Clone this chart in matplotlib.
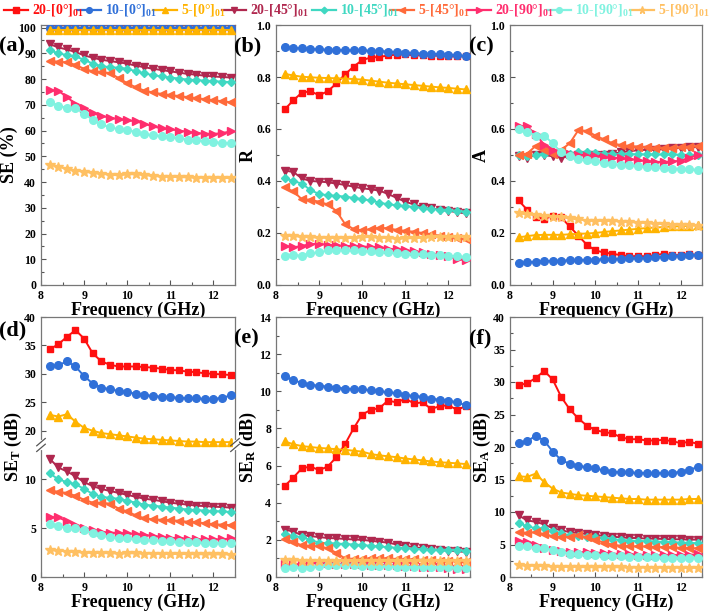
"""
Shielding performance of the 0/45/90 degree laminates, X band (8.2-12.4 GHz).
Six panels: SE (%), R, A, SE_T, SE_R, SE_A.
"""

import numpy as np
import matplotlib.pyplot as plt
from matplotlib.lines import Line2D
from matplotlib.ticker import MultipleLocator, FixedLocator

plt.rcParams['font.family'] = 'Liberation Serif'
plt.rcParams['font.weight'] = 'bold'
plt.rcParams['axes.labelweight'] = 'bold'
plt.rcParams['mathtext.fontset'] = 'custom'
plt.rcParams['mathtext.rm'] = 'Liberation Serif:bold'
plt.rcParams['mathtext.it'] = 'Liberation Serif:bold:italic'
plt.rcParams['mathtext.bf'] = 'Liberation Serif:bold'

# ---------------------------------------------------------------------------
freq = [8.2, 8.4, 8.6, 8.8, 9.0, 9.2, 9.4, 9.6, 9.8, 10.0, 10.2,
        10.4, 10.6, 10.8, 11.0, 11.2, 11.4, 11.6, 11.8, 12.0, 12.2, 12.4]

labels  = ['20-[0°]$_{01}$', '10-[0°]$_{01}$', '5-[0°]$_{01}$',
           '20-[45°]$_{01}$', '10-[45°]$_{01}$', '5-[45°]$_{01}$',
           '20-[90°]$_{01}$', '10-[90°]$_{01}$', '5-[90°]$_{01}$']
colors  = ['#FF1010', '#3070D8', '#FFB300', '#B0284F', '#40D8C2',
           '#FF6A3A', '#FF2E6E', '#80F2E0', '#FFC062']
markers = ['s', 'o', '^', 'v', 'D', '<', '>', 'o', '*']
msizes  = [5, 5.5, 5.5, 5.5, 4.5, 5.5, 5.5, 5.5, 7]

# SE (%)
se_pct = [
    [99.96] * 22,
    [99.8] * 22,
    [99.1] * 22,
    [93.6, 92.3, 91.5, 90.5, 89.2, 88.3, 87.5, 87.0, 86.5, 86.0, 85.2,
     84.6, 84.0, 83.5, 83.0, 82.5, 82.0, 81.7, 81.3, 81.0, 80.8, 80.6],
    [91.2, 90.0, 89.3, 88.8, 87.5, 86.0, 85.0, 84.6, 84.4, 84.0, 83.0,
     82.2, 81.5, 81.0, 80.6, 80.2, 79.8, 79.6, 79.4, 79.2, 79.0, 78.8],
    [87.2, 86.7, 86.5, 85.5, 84.0, 83.0, 82.8, 82.3, 80.4, 78.4, 76.8,
     75.5, 74.8, 74.2, 73.8, 73.4, 73.0, 72.6, 72.2, 71.8, 71.4, 71.0],
    [75.6, 75.5, 73.0, 70.4, 68.6, 66.8, 65.7, 65.0, 64.4, 64.0, 63.6,
     62.6, 61.6, 60.8, 60.5, 60.0, 59.5, 59.0, 58.8, 58.7, 59.0, 59.7],
    [71.2, 69.7, 68.8, 68.8, 66.6, 64.2, 62.4, 61.2, 60.6, 60.3, 59.4,
     58.6, 58.2, 57.8, 57.5, 57.0, 56.5, 56.2, 55.8, 55.5, 55.2, 55.0],
    [46.8, 46.0, 45.0, 44.4, 44.0, 43.5, 43.2, 42.8, 42.6, 43.0, 43.0,
     42.7, 42.3, 42.1, 42.0, 41.9, 41.8, 41.7, 41.6, 41.6, 41.6, 41.5],
]

# R
refl = [
    [0.675, 0.710, 0.740, 0.745, 0.730, 0.745, 0.775, 0.810, 0.840, 0.865, 0.875,
     0.877, 0.883, 0.886, 0.887, 0.883, 0.883, 0.882, 0.882, 0.879, 0.879, 0.879],
    [0.915, 0.912, 0.910, 0.908, 0.906, 0.905, 0.904, 0.903, 0.902, 0.902, 0.901,
     0.900, 0.898, 0.896, 0.894, 0.892, 0.890, 0.889, 0.888, 0.886, 0.884, 0.881],
    [0.812, 0.806, 0.801, 0.799, 0.797, 0.796, 0.795, 0.794, 0.792, 0.790, 0.786,
     0.782, 0.778, 0.775, 0.772, 0.769, 0.766, 0.763, 0.760, 0.758, 0.755, 0.752],
    [0.440, 0.435, 0.410, 0.400, 0.398, 0.395, 0.390, 0.385, 0.378, 0.372, 0.368,
     0.363, 0.350, 0.335, 0.320, 0.310, 0.300, 0.295, 0.290, 0.285, 0.280, 0.275],
    [0.410, 0.400, 0.390, 0.365, 0.350, 0.345, 0.343, 0.340, 0.335, 0.330, 0.325,
     0.317, 0.310, 0.307, 0.303, 0.300, 0.297, 0.293, 0.290, 0.287, 0.285, 0.282],
    [0.375, 0.360, 0.330, 0.328, 0.320, 0.310, 0.285, 0.235, 0.215, 0.210, 0.215,
     0.220, 0.218, 0.212, 0.208, 0.205, 0.200, 0.195, 0.190, 0.185, 0.180, 0.175],
    [0.150, 0.145, 0.150, 0.158, 0.158, 0.155, 0.152, 0.150, 0.150, 0.148, 0.147,
     0.145, 0.140, 0.137, 0.133, 0.130, 0.125, 0.120, 0.115, 0.110, 0.100, 0.095],
    [0.113, 0.115, 0.113, 0.122, 0.125, 0.133, 0.135, 0.133, 0.133, 0.132, 0.130,
     0.127, 0.125, 0.122, 0.120, 0.120, 0.118, 0.117, 0.115, 0.113, 0.110, 0.108],
    [0.190, 0.188, 0.185, 0.183, 0.182, 0.181, 0.180, 0.180, 0.181, 0.183, 0.185,
     0.182, 0.180, 0.178, 0.179, 0.180, 0.182, 0.184, 0.185, 0.186, 0.186, 0.186],
]

# A
absorb = [
    [0.325, 0.290, 0.260, 0.255, 0.265, 0.260, 0.225, 0.190, 0.155, 0.133, 0.125,
     0.120, 0.115, 0.110, 0.112, 0.110, 0.115, 0.120, 0.115, 0.115, 0.120, 0.115],
    [0.083, 0.087, 0.090, 0.092, 0.093, 0.094, 0.095, 0.096, 0.097, 0.098, 0.099,
     0.100, 0.101, 0.102, 0.103, 0.105, 0.107, 0.109, 0.110, 0.112, 0.114, 0.117],
    [0.183, 0.188, 0.192, 0.193, 0.193, 0.193, 0.195, 0.197, 0.198, 0.200, 0.204,
     0.207, 0.210, 0.213, 0.216, 0.219, 0.221, 0.223, 0.225, 0.226, 0.228, 0.230],
    [0.495, 0.490, 0.500, 0.500, 0.495, 0.490, 0.495, 0.500, 0.500, 0.500, 0.500,
     0.505, 0.510, 0.515, 0.518, 0.520, 0.520, 0.522, 0.525, 0.527, 0.530, 0.530],
    [0.500, 0.495, 0.500, 0.505, 0.510, 0.510, 0.505, 0.510, 0.510, 0.508, 0.505,
     0.503, 0.503, 0.503, 0.503, 0.502, 0.502, 0.502, 0.502, 0.501, 0.500, 0.500],
    [0.500, 0.505, 0.535, 0.520, 0.505, 0.520, 0.545, 0.595, 0.593, 0.575, 0.560,
     0.545, 0.538, 0.535, 0.532, 0.530, 0.528, 0.528, 0.528, 0.530, 0.532, 0.535],
    [0.610, 0.610, 0.580, 0.540, 0.520, 0.510, 0.505, 0.500, 0.497, 0.495, 0.492,
     0.490, 0.487, 0.485, 0.480, 0.476, 0.474, 0.473, 0.475, 0.478, 0.490, 0.500],
    [0.600, 0.590, 0.575, 0.575, 0.545, 0.510, 0.495, 0.485, 0.480, 0.475, 0.470,
     0.465, 0.462, 0.460, 0.458, 0.455, 0.453, 0.450, 0.448, 0.447, 0.445, 0.443],
    [0.275, 0.272, 0.268, 0.265, 0.262, 0.260, 0.256, 0.252, 0.248, 0.246, 0.247,
     0.246, 0.244, 0.242, 0.240, 0.238, 0.236, 0.234, 0.232, 0.231, 0.230, 0.228],
]

# SE_T (dB)
se_t = [
    [34.3, 35.2, 36.5, 37.7, 36.2, 33.6, 32.2, 31.6, 31.3, 31.3, 31.3,
     31.2, 31.1, 30.9, 30.7, 30.6, 30.4, 30.3, 30.1, 30.0, 29.9, 29.8],
    [31.4, 31.5, 32.2, 31.3, 29.6, 28.3, 27.6, 27.3, 27.0, 26.8, 26.5,
     26.3, 26.1, 26.0, 25.9, 25.8, 25.7, 25.7, 25.6, 25.6, 25.8, 26.2],
    [22.8, 22.5, 22.9, 21.6, 20.5, 20.0, 19.6, 19.4, 19.2, 19.0, 18.8,
     18.6, 18.5, 18.4, 18.3, 18.2, 18.1, 18.1, 18.0, 18.0, 18.0, 18.0],
    [12.1, 11.2, 10.8, 10.3, 9.7, 9.3, 9.0, 8.8, 8.6, 8.4, 8.2,
     8.0, 7.9, 7.75, 7.6, 7.5, 7.4, 7.3, 7.25, 7.2, 7.15, 7.1],
    [10.6, 10.0, 9.7, 9.5, 9.0, 8.5, 8.2, 8.1, 8.0, 7.8, 7.6,
     7.4, 7.3, 7.2, 7.1, 7.0, 6.9, 6.85, 6.8, 6.75, 6.7, 6.65],
    [8.9, 8.7, 8.6, 8.3, 7.9, 7.6, 7.6, 7.5, 7.0, 6.7, 6.3,
     6.0, 5.9, 5.85, 5.8, 5.75, 5.65, 5.6, 5.5, 5.4, 5.35, 5.3],
    [6.1, 6.1, 5.7, 5.3, 5.0, 4.8, 4.6, 4.55, 4.5, 4.45, 4.4,
     4.3, 4.2, 4.1, 4.0, 4.0, 3.9, 3.85, 3.85, 3.85, 3.85, 3.95],
    [5.4, 5.2, 5.05, 5.0, 4.8, 4.5, 4.25, 4.1, 4.0, 3.95, 3.9,
     3.8, 3.75, 3.7, 3.65, 3.6, 3.6, 3.55, 3.5, 3.5, 3.45, 3.45],
    [2.75, 2.7, 2.6, 2.55, 2.5, 2.45, 2.45, 2.42, 2.4, 2.42, 2.42,
     2.4, 2.38, 2.36, 2.35, 2.35, 2.34, 2.33, 2.32, 2.31, 2.31, 2.3],
]

# SE_R (dB)
se_r = [
    [4.9, 5.35, 5.85, 5.95, 5.75, 5.95, 6.45, 7.15, 8.0, 8.75, 9.0,
     9.1, 9.5, 9.4, 9.6, 9.35, 9.4, 9.05, 9.2, 9.25, 9.0, 9.2],
    [10.8, 10.6, 10.45, 10.35, 10.3, 10.25, 10.2, 10.15, 10.12, 10.1, 10.05,
     10.0, 9.95, 9.9, 9.8, 9.75, 9.7, 9.6, 9.55, 9.5, 9.4, 9.25],
    [7.3, 7.15, 7.05, 7.0, 6.95, 6.92, 6.88, 6.85, 6.8, 6.75, 6.62,
     6.55, 6.5, 6.45, 6.38, 6.33, 6.28, 6.22, 6.18, 6.15, 6.12, 6.08],
    [2.55, 2.45, 2.25, 2.2, 2.15, 2.1, 2.08, 2.05, 2.02, 2.0, 1.95,
     1.9, 1.85, 1.75, 1.68, 1.6, 1.55, 1.5, 1.45, 1.42, 1.38, 1.35],
    [2.3, 2.2, 2.15, 2.0, 1.85, 1.82, 1.8, 1.78, 1.75, 1.72, 1.68,
     1.65, 1.6, 1.58, 1.55, 1.52, 1.5, 1.48, 1.46, 1.45, 1.44, 1.42],
    [2.05, 1.9, 1.7, 1.68, 1.65, 1.55, 1.3, 1.0, 0.98, 0.98, 1.0,
     1.02, 1.0, 0.97, 0.95, 0.95, 0.92, 0.9, 0.88, 0.86, 0.84, 0.8],
    [0.7, 0.68, 0.7, 0.75, 0.75, 0.73, 0.72, 0.7, 0.7, 0.68, 0.67,
     0.66, 0.64, 0.62, 0.6, 0.58, 0.56, 0.54, 0.52, 0.5, 0.45, 0.42],
    [0.5, 0.52, 0.5, 0.55, 0.58, 0.62, 0.63, 0.62, 0.62, 0.6, 0.6,
     0.58, 0.57, 0.56, 0.55, 0.55, 0.54, 0.53, 0.52, 0.52, 0.5, 0.48],
    [0.92, 0.9, 0.88, 0.87, 0.86, 0.85, 0.85, 0.85, 0.86, 0.87, 0.88,
     0.87, 0.86, 0.85, 0.86, 0.86, 0.87, 0.87, 0.88, 0.88, 0.88, 0.88],
]

# SE_A (dB)
se_a = [
    [29.5, 29.8, 30.6, 31.7, 30.4, 27.7, 25.8, 24.4, 23.3, 22.6, 22.3,
     22.1, 21.5, 21.2, 21.2, 21.0, 21.0, 21.1, 20.9, 20.6, 20.8, 20.5],
    [20.6, 20.9, 21.7, 21.0, 19.3, 18.0, 17.4, 17.1, 16.9, 16.7, 16.4,
     16.2, 16.1, 16.1, 16.0, 16.0, 16.0, 16.0, 16.0, 16.2, 16.5, 16.9],
    [15.5, 15.4, 15.9, 14.6, 13.6, 13.0, 12.8, 12.6, 12.5, 12.4, 12.3,
     12.2, 12.1, 12.0, 12.0, 11.9, 11.9, 11.9, 11.9, 11.9, 12.0, 12.0],
    [9.5, 8.7, 8.5, 8.1, 7.5, 7.2, 6.9, 6.8, 6.6, 6.5, 6.3,
     6.2, 6.1, 6.0, 6.0, 5.9, 5.9, 5.85, 5.8, 5.8, 5.75, 5.75],
    [8.3, 7.8, 7.5, 7.5, 7.1, 6.7, 6.4, 6.3, 6.2, 6.1, 6.0,
     5.8, 5.7, 5.6, 5.55, 5.5, 5.45, 5.4, 5.35, 5.3, 5.25, 5.2],
    [6.9, 6.8, 6.9, 6.6, 6.3, 6.1, 6.2, 6.4, 6.1, 5.7, 5.3,
     5.0, 4.8, 4.75, 4.7, 4.7, 4.6, 4.6, 4.55, 4.5, 4.45, 4.4],
    [5.5, 5.4, 5.0, 4.5, 4.2, 4.0, 3.9, 3.85, 3.8, 3.75, 3.7,
     3.6, 3.55, 3.5, 3.45, 3.4, 3.35, 3.35, 3.35, 3.4, 3.4, 3.5],
    [4.8, 4.7, 4.5, 4.5, 4.1, 3.9, 3.6, 3.5, 3.45, 3.4, 3.3,
     3.25, 3.2, 3.15, 3.1, 3.05, 3.05, 3.0, 3.0, 2.95, 2.95, 2.95],
    [1.8, 1.75, 1.7, 1.65, 1.6, 1.55, 1.55, 1.52, 1.5, 1.5, 1.5,
     1.5, 1.48, 1.46, 1.45, 1.45, 1.44, 1.43, 1.42, 1.41, 1.4, 1.4],
]
# ---------------------------------------------------------------------------

W, H = 709, 611
# broken axis of panel (d): lower part 0-13.5, upper part 17.5-40
BRK_LO, BRK_HI, BRK_FRAC = 13.5, 17.5, 0.5077


def d_fwd(y):
    return np.interp(y, [-100, 0, BRK_LO, BRK_HI, 40, 200],
                     [-100 / BRK_LO * BRK_FRAC, 0, BRK_FRAC, BRK_FRAC + 1e-4, 1,
                      1 + 160 / 22.5 * (1 - BRK_FRAC)])


def d_inv(v):
    return np.interp(v, [-100 / BRK_LO * BRK_FRAC, 0, BRK_FRAC, BRK_FRAC + 1e-4, 1,
                         1 + 160 / 22.5 * (1 - BRK_FRAC)],
                     [-100, 0, BRK_LO, BRK_HI, 40, 200])


def px_axes(fig, left, top, right, bottom):
    return fig.add_axes([left / W, 1 - bottom / H, (right - left) / W, (bottom - top) / H])


def draw_panel(ax, data, ylabel, ylim, ymajor, letter, ticks=None, letter_y=0.918):
    for y, c, m, ms in zip(data, colors, markers, msizes):
        ax.plot(freq, y, color=c, marker=m, ms=ms, lw=1.4, mec=c, zorder=3)
    ax.set_xlim(8, 12.5)
    ax.set_ylim(*ylim)
    ax.xaxis.set_major_locator(MultipleLocator(1))
    ax.xaxis.set_minor_locator(MultipleLocator(0.5))
    if ticks is None:
        ax.yaxis.set_major_locator(MultipleLocator(ymajor))
        ax.yaxis.set_minor_locator(MultipleLocator(ymajor / 2))
    else:
        ax.yaxis.set_major_locator(FixedLocator(ticks))
    ax.tick_params(which='both', direction='in', labelsize=8.5, width=0.8, color='#555555')
    ax.tick_params(which='major', length=3.5)
    ax.tick_params(which='minor', length=2)
    for sp in ax.spines.values():
        sp.set_color('#777777')
        sp.set_linewidth(0.9)
    ax.set_xlabel('Frequency (GHz)', fontsize=13, labelpad=0)
    ax.set_ylabel(ylabel, fontsize=13, labelpad=0)
    ax.text(-0.215, letter_y, letter, transform=ax.transAxes, fontsize=16,
            fontweight='bold', ha='left', va='center')


def main():
    fig = plt.figure(figsize=(W / 100, H / 100), dpi=100)

    cols = [(41, 235), (276, 470), (510, 702)]
    top_row = (25, 285)
    bot_row = (317, 577)

    ax_a = px_axes(fig, cols[0][0], top_row[0], cols[0][1], top_row[1])
    ax_b = px_axes(fig, cols[1][0], top_row[0], cols[1][1], top_row[1])
    ax_c = px_axes(fig, cols[2][0], top_row[0], cols[2][1], top_row[1])
    ax_d = px_axes(fig, cols[0][0], bot_row[0], cols[0][1], bot_row[1])
    ax_e = px_axes(fig, cols[1][0], bot_row[0], cols[1][1], bot_row[1])
    ax_f = px_axes(fig, cols[2][0], bot_row[0], cols[2][1], bot_row[1])

    draw_panel(ax_a, se_pct, 'SE (%)', (0, 101), 10, '(a)')
    draw_panel(ax_b, refl, 'R', (0, 1.0), 0.2, '(b)')
    draw_panel(ax_c, absorb, 'A', (0, 1.0), 0.2, '(c)')

    ax_d.set_yscale('function', functions=(d_fwd, d_inv))
    draw_panel(ax_d, se_t, 'SE$_\\mathrm{T}$ (dB)', (0, 40), 5, '(d)',
               ticks=[0, 5, 10, 20, 25, 30, 35, 40], letter_y=0.95)
    draw_panel(ax_e, se_r, 'SE$_\\mathrm{R}$ (dB)', (0, 14), 2, '(e)')
    draw_panel(ax_f, se_a, 'SE$_\\mathrm{A}$ (dB)', (0, 40), 5, '(f)')

    # break marks on panel (d)
    yb = BRK_FRAC
    for xs in (0.0, 1.0):
        ax_d.plot([xs, xs], [yb - 0.012, yb + 0.012], transform=ax_d.transAxes,
                  color='white', lw=3, clip_on=False, zorder=5)
        for dy in (-0.011, 0.011):
            ax_d.plot([xs - 0.022, xs + 0.022], [yb + dy - 0.014, yb + dy + 0.014],
                      transform=ax_d.transAxes, color='#555555', lw=0.9,
                      clip_on=False, zorder=6)

    # legend row across the top
    handle_x = [4, 77, 153, 222, 312, 390, 467, 547, 630]
    y_leg = 1 - 10 / H
    for x0, lab, c, m, ms in zip(handle_x, labels, colors, markers, msizes):
        fig.add_artist(Line2D([x0 / W, (x0 + 24) / W], [y_leg, y_leg], color=c, lw=1.6,
                              transform=fig.transFigure))
        fig.add_artist(Line2D([(x0 + 12) / W], [y_leg], color=c, marker=m, ms=ms * 0.75,
                              transform=fig.transFigure))
        fig.text((x0 + 28) / W, y_leg, lab, color=c, fontsize=10, fontweight='bold',
                 ha='left', va='center')

    fig.savefig('out.png', dpi=100)
    plt.close(fig)


if __name__ == '__main__':
    main()
